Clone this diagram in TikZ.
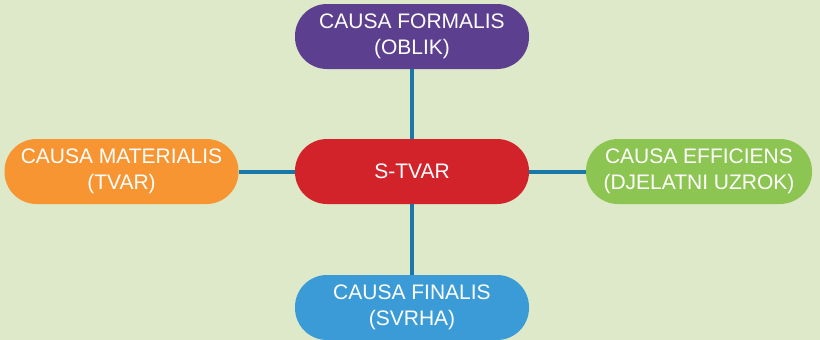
\documentclass[tikz,border=0pt]{standalone}
\usepackage{fontspec}
\setmainfont{Liberation Sans}
\usepackage{tikz}
\usetikzlibrary{positioning}

\definecolor{bgGreen}{HTML}{DDE9C9}
\definecolor{linkBlue}{HTML}{1A78A8}
\definecolor{formPurple}{HTML}{5D3F8F}
\definecolor{matOrange}{HTML}{F79533}
\definecolor{coreRed}{HTML}{D2232A}
\definecolor{effGreen}{HTML}{8DC552}
\definecolor{finBlue}{HTML}{3A9BD7}

\tikzset{
    causebox/.style={draw=none, text=white, align=center, minimum width=234pt,
        minimum height=65pt, rounded corners=32pt, inner sep=2pt,
        font=\fontsize{21}{26}\selectfont},
    link/.style={draw=linkBlue, line width=4pt}
}

\begin{document}
\begin{tikzpicture}[x=1pt,y=-1pt]
    \fill[bgGreen] (0,0) rectangle (820,340);
    \useasboundingbox (0,0) rectangle (820,340);

    \node[causebox, fill=formPurple] (formalis) at (412,36.5) {CAUSA FORMALIS\\(OBLIK)};
    \node[causebox, fill=matOrange] (materialis) at (121.5,171.5) {CAUSA MATERIALIS\\(TVAR)};
    \node[causebox, fill=coreRed] (stvar) at (412,171.5) {S-TVAR};
    \node[causebox, fill=effGreen, minimum width=226pt] (efficiens) at (699,171.5) {CAUSA EFFICIENS\\(DJELATNI UZROK)};
    \node[causebox, fill=finBlue] (finalis) at (412,307.5) {CAUSA FINALIS\\(SVRHA)};

\draw[link] (stvar) -- (formalis);
\draw[link] (stvar) -- (materialis);
\draw[link] (stvar) -- (efficiens);
\draw[link] (stvar) -- (finalis);

\end{tikzpicture}
\end{document}
